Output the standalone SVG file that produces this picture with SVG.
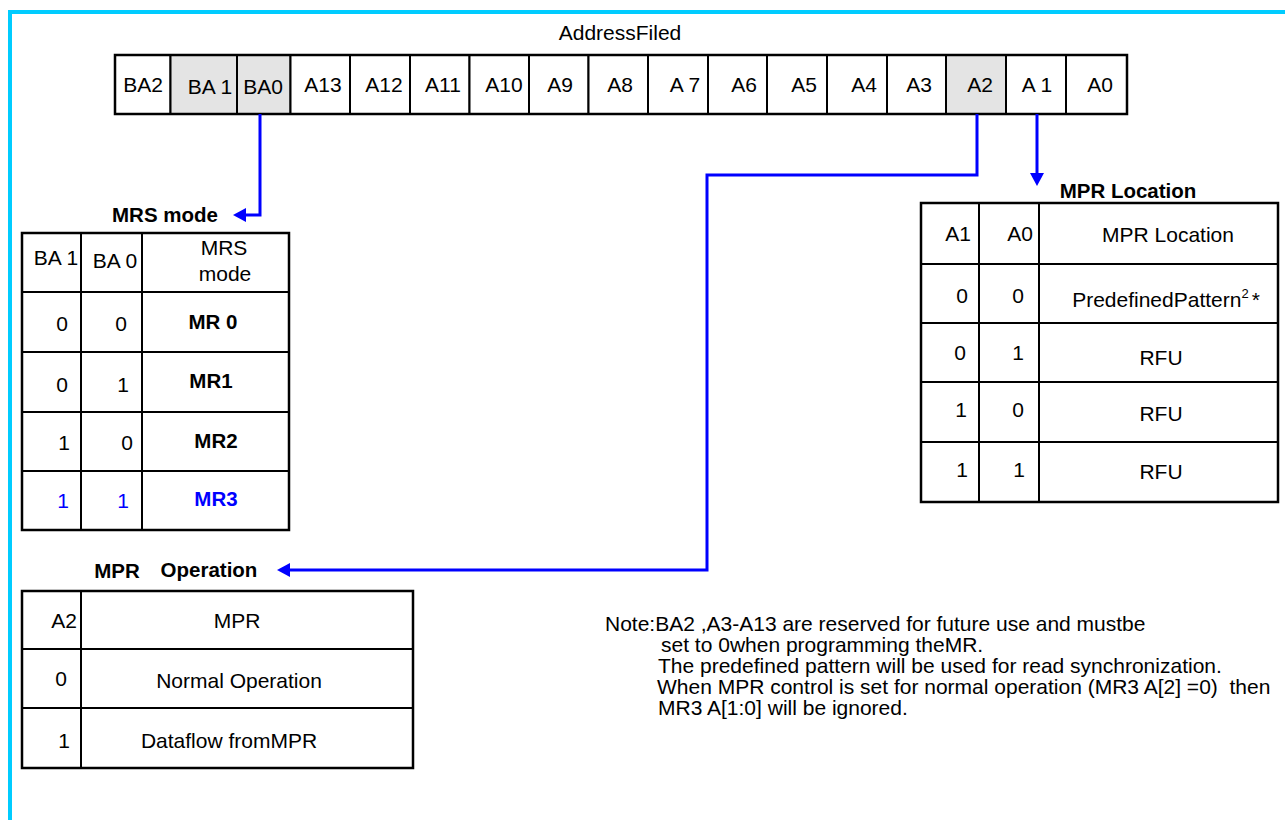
<svg xmlns="http://www.w3.org/2000/svg" width="1285" height="820" viewBox="0 0 1285 820">
<style>
text{font-family:"Liberation Sans",Arial,sans-serif;font-size:21px;fill:#000}
.c{text-anchor:middle}
.b{font-weight:bold;font-size:20.5px}
.blue{fill:#0000ff}
.cell{fill:#fff;stroke:#000;stroke-width:2}
.g{fill:#e4e4e4;stroke:#000;stroke-width:2}
.ln{stroke:#000;stroke-width:2;fill:none}
.out{fill:none;stroke:#000;stroke-width:2.5}
.con{fill:none;stroke:#0000ff;stroke-width:3}
.note{font-size:21px}
</style>
<defs>
<marker id="ah" markerUnits="userSpaceOnUse" markerWidth="14" markerHeight="14" refX="3" refY="7" orient="auto">
<path d="M0,0 L13,7 L0,14 z" fill="#0000ff"/>
</marker>
</defs>
<rect x="10" y="12" width="1300" height="850" fill="#fff" stroke="#00ccff" stroke-width="4"/>

<g id="address-field">
<text class="c" x="620" y="40">AddressFiled</text>
<rect class="cell" x="115" y="55" width="55.5" height="59"/>
<rect class="g" x="170.5" y="55" width="66.5" height="59"/>
<rect class="g" x="237" y="55" width="53.5" height="59"/>
<rect class="cell" x="290.5" y="55" width="59.5" height="59"/>
<rect class="cell" x="350" y="55" width="60" height="59"/>
<rect class="cell" x="410" y="55" width="59.5" height="59"/>
<rect class="cell" x="469.5" y="55" width="59.5" height="59"/>
<rect class="cell" x="529" y="55" width="59.5" height="59"/>
<rect class="cell" x="588.5" y="55" width="59.5" height="59"/>
<rect class="cell" x="648" y="55" width="60" height="59"/>
<rect class="cell" x="708" y="55" width="59" height="59"/>
<rect class="cell" x="767" y="55" width="60" height="59"/>
<rect class="cell" x="827" y="55" width="60" height="59"/>
<rect class="cell" x="887" y="55" width="59" height="59"/>
<rect class="g" x="946" y="55" width="60" height="59"/>
<rect class="cell" x="1006" y="55" width="60" height="59"/>
<rect class="cell" x="1066" y="55" width="61" height="59"/>
<rect class="out" x="115" y="55" width="1012" height="59"/>
<text class="c" x="143" y="92">BA2</text>
<text class="c" x="210" y="94">BA 1</text>
<text class="c" x="263" y="94">BA0</text>
<text class="c" x="323" y="92">A13</text>
<text class="c" x="384" y="92">A12</text>
<text class="c" x="443" y="92">A11</text>
<text class="c" x="504" y="92">A10</text>
<text class="c" x="560" y="92">A9</text>
<text class="c" x="620" y="92">A8</text>
<text class="c" x="685" y="92">A 7</text>
<text class="c" x="744" y="92">A6</text>
<text class="c" x="804" y="92">A5</text>
<text class="c" x="864" y="92">A4</text>
<text class="c" x="919" y="92">A3</text>
<text class="c" x="980" y="92">A2</text>
<text class="c" x="1037" y="92">A 1</text>
<text class="c" x="1100" y="92">A0</text>
</g>

<g id="mrs-mode">
<text class="c b" x="165" y="222">MRS mode</text>
<rect class="out" x="22" y="233" width="267" height="297"/>
<path class="ln" d="M81,233 V530 M142,233 V530 M22,292 H289 M22,352 H289 M22,412 H289 M22,471 H289"/>
<text class="c" x="56" y="265">BA 1</text>
<text class="c" x="115" y="268">BA 0</text>
<text class="c" x="224" y="255">MRS</text>
<text class="c" x="225" y="281">mode</text>
<text class="c" x="62" y="331">0</text>
<text class="c" x="121" y="331">0</text>
<text class="c b" x="213" y="329">MR 0</text>
<text class="c" x="62" y="392">0</text>
<text class="c" x="123" y="392">1</text>
<text class="c b" x="211" y="388">MR1</text>
<text class="c" x="64" y="450">1</text>
<text class="c" x="127" y="450">0</text>
<text class="c b" x="216" y="448">MR2</text>
<text class="c blue" x="63" y="508">1</text>
<text class="c blue" x="123" y="508">1</text>
<text class="c b blue" x="216" y="506">MR3</text>
</g>

<g id="mpr-location">
<text class="c b" x="1128" y="198">MPR Location</text>
<rect class="out" x="921" y="203" width="357" height="299"/>
<path class="ln" d="M979,203 V502 M1039,203 V502 M921,264 H1278 M921,323 H1278 M921,382 H1278 M921,442 H1278"/>
<text class="c" x="958" y="241">A1</text>
<text class="c" x="1020" y="241">A0</text>
<text class="c" x="1168" y="242">MPR Location</text>
<text class="c" x="962" y="303">0</text>
<text class="c" x="1018" y="303">0</text>
<text class="c" x="1166" y="307">PredefinedPattern<tspan font-size="13" dy="-9">2</tspan><tspan dx="3" dy="9">*</tspan></text>
<text class="c" x="960" y="360">0</text>
<text class="c" x="1018" y="360">1</text>
<text class="c" x="1161" y="365">RFU</text>
<text class="c" x="961" y="417">1</text>
<text class="c" x="1018" y="417">0</text>
<text class="c" x="1161" y="421">RFU</text>
<text class="c" x="962" y="477">1</text>
<text class="c" x="1019" y="477">1</text>
<text class="c" x="1161" y="479">RFU</text>
</g>

<g id="mpr-operation">
<text class="c b" x="117" y="578">MPR</text>
<text class="c b" x="209" y="577">Operation</text>
<rect class="out" x="22" y="591" width="391" height="177"/>
<path class="ln" d="M81,591 V768 M22,649 H413 M22,708 H413"/>
<text class="c" x="64" y="628">A2</text>
<text class="c" x="237" y="628">MPR</text>
<text class="c" x="61" y="686">0</text>
<text class="c" x="239" y="688">Normal Operation</text>
<text class="c" x="64" y="748">1</text>
<text class="c" x="229" y="748">Dataflow fromMPR</text>
</g>

<g id="note">
<text class="note" x="605" y="631">Note:BA2 ,A3-A13 are reserved for future use and mustbe</text>
<text class="note" x="661" y="652">set to 0when programming theMR.</text>
<text class="note" x="658" y="673">The predefined pattern will be used for read synchronization.</text>
<text class="note" x="657" y="694">When MPR control is set for normal operation (MR3 A[2] =0)&#160; then</text>
<text class="note" x="658" y="715">MR3 A[1:0] will be ignored.</text>
</g>

<g id="connectors">
<path class="con" d="M260,114 V215 H243" marker-end="url(#ah)"/>
<path class="con" d="M977,114 V175 H707 V570 H287" marker-end="url(#ah)"/>
<path class="con" d="M1037,114 V176" marker-end="url(#ah)"/>
</g>
</svg>
